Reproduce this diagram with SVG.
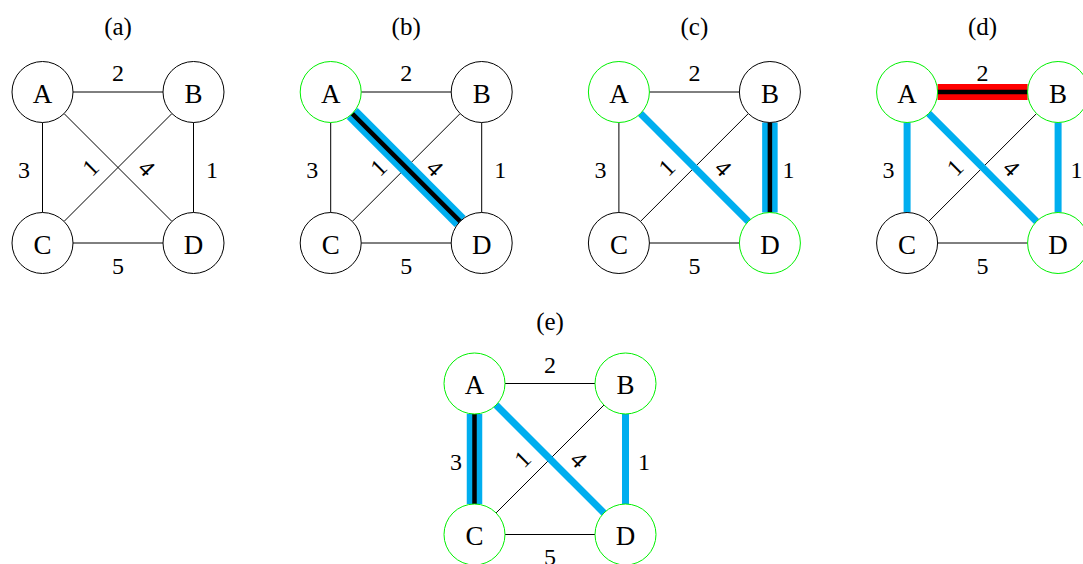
<svg xmlns="http://www.w3.org/2000/svg" width="1083" height="564" viewBox="0 0 1083 564">
<style>
.bg{fill:#fff}
.e{stroke:#000;stroke-width:1;fill:none}
.sel{stroke:#00AEEF;stroke-width:7;fill:none}
.cur{stroke:#00AEEF;stroke-width:15.5;fill:none}
.curR{stroke:#FF0000;stroke-width:16;fill:none}
.core{stroke:#000;stroke-width:4.5;fill:none}
.n circle{fill:#fff;stroke:#000;stroke-width:1}
.g circle{stroke:#00F000}
.n text{font-family:"Liberation Serif","DejaVu Serif",serif;font-size:27px;text-anchor:middle;fill:#000}
.lbl{font-family:"Liberation Serif","DejaVu Serif",serif;font-size:24px;text-anchor:middle;fill:#000}
.ttl{font-family:"Liberation Serif","DejaVu Serif",serif;font-size:25px;text-anchor:middle;fill:#000}
</style>
<defs>
<line id="AB" x1="30.5" y1="0" x2="120.5" y2="0"/>
<line id="CD" x1="30.5" y1="151" x2="120.5" y2="151"/>
<line id="AC" x1="0" y1="30.5" x2="0" y2="120.5"/>
<line id="BD" x1="151" y1="30.5" x2="151" y2="120.5"/>
<line id="AD" x1="21.57" y1="21.57" x2="129.43" y2="129.43"/>
<line id="BC" x1="129.43" y1="21.57" x2="21.57" y2="129.43"/>
<g id="labels">
<text class="lbl" x="75.5" y="-11">2</text>
<text class="lbl" x="75.5" y="181.5">5</text>
<text class="lbl" x="-18.5" y="86">3</text>
<text class="lbl" x="169.5" y="86">1</text>
<text class="lbl" transform="translate(48,75.5) rotate(-45)" x="0" y="8">1</text>
<text class="lbl" transform="translate(104.2,76) rotate(45)" x="0" y="8">4</text>
</g>
</defs>
<rect class="bg" x="0" y="0" width="1083" height="564"/>

<!-- panel (a) -->
<g id="panel-a" transform="translate(42.5,92)">
<text class="ttl" x="75.5" y="-57">(a)</text>
<g id="a-edges">
<use href="#AB" class="e"/><use href="#CD" class="e"/><use href="#AC" class="e"/>
<use href="#BD" class="e"/><use href="#AD" class="e"/><use href="#BC" class="e"/>
</g>
<use href="#labels"/>
<g id="a-A" class="n"><circle cx="0" cy="0" r="30.5"/><text x="0" y="10.5">A</text></g>
<g id="a-B" class="n"><circle cx="151" cy="0" r="30.5"/><text x="151" y="10.5">B</text></g>
<g id="a-C" class="n"><circle cx="0" cy="151" r="30.5"/><text x="0" y="161.5">C</text></g>
<g id="a-D" class="n"><circle cx="151" cy="151" r="30.5"/><text x="151" y="161.5">D</text></g>
</g>

<!-- panel (b) -->
<g id="panel-b" transform="translate(330.7,92)">
<text class="ttl" x="75.5" y="-57">(b)</text>
<g id="b-edges">
<use href="#AB" class="e"/><use href="#CD" class="e"/><use href="#AC" class="e"/>
<use href="#BD" class="e"/><use href="#BC" class="e"/>
<use href="#AD" class="cur"/><use href="#AD" class="core"/>
</g>
<use href="#labels"/>
<g id="b-A" class="n g"><circle cx="0" cy="0" r="30.5"/><text x="0" y="10.5">A</text></g>
<g id="b-B" class="n"><circle cx="151" cy="0" r="30.5"/><text x="151" y="10.5">B</text></g>
<g id="b-C" class="n"><circle cx="0" cy="151" r="30.5"/><text x="0" y="161.5">C</text></g>
<g id="b-D" class="n"><circle cx="151" cy="151" r="30.5"/><text x="151" y="161.5">D</text></g>
</g>

<!-- panel (c) -->
<g id="panel-c" transform="translate(618.9,92)">
<text class="ttl" x="75.5" y="-57">(c)</text>
<g id="c-edges">
<use href="#AB" class="e"/><use href="#CD" class="e"/><use href="#AC" class="e"/>
<use href="#BC" class="e"/>
<use href="#AD" class="sel"/>
<use href="#BD" class="cur"/><use href="#BD" class="core"/>
</g>
<use href="#labels"/>
<g id="c-A" class="n g"><circle cx="0" cy="0" r="30.5"/><text x="0" y="10.5">A</text></g>
<g id="c-B" class="n"><circle cx="151" cy="0" r="30.5"/><text x="151" y="10.5">B</text></g>
<g id="c-C" class="n"><circle cx="0" cy="151" r="30.5"/><text x="0" y="161.5">C</text></g>
<g id="c-D" class="n g"><circle cx="151" cy="151" r="30.5"/><text x="151" y="161.5">D</text></g>
</g>

<!-- panel (d) -->
<g id="panel-d" transform="translate(907.1,92)">
<text class="ttl" x="75.5" y="-57">(d)</text>
<g id="d-edges">
<use href="#CD" class="e"/><use href="#BC" class="e"/>
<use href="#AD" class="sel"/><use href="#AC" class="sel"/><use href="#BD" class="sel"/>
<use href="#AB" class="curR"/><use href="#AB" class="core"/>
</g>
<use href="#labels"/>
<g id="d-A" class="n g"><circle cx="0" cy="0" r="30.5"/><text x="0" y="10.5">A</text></g>
<g id="d-B" class="n g"><circle cx="151" cy="0" r="30.5"/><text x="151" y="10.5">B</text></g>
<g id="d-C" class="n"><circle cx="0" cy="151" r="30.5"/><text x="0" y="161.5">C</text></g>
<g id="d-D" class="n g"><circle cx="151" cy="151" r="30.5"/><text x="151" y="161.5">D</text></g>
</g>

<!-- panel (e) -->
<g id="panel-e" transform="translate(474.5,383.5)">
<text class="ttl" x="75.5" y="-54">(e)</text>
<g id="e-edges">
<use href="#AB" class="e"/><use href="#CD" class="e"/><use href="#BC" class="e"/>
<use href="#AD" class="sel"/><use href="#BD" class="sel"/>
<use href="#AC" class="cur"/><use href="#AC" class="core"/>
</g>
<use href="#labels"/>
<g id="e-A" class="n g"><circle cx="0" cy="0" r="30.5"/><text x="0" y="10.5">A</text></g>
<g id="e-B" class="n g"><circle cx="151" cy="0" r="30.5"/><text x="151" y="10.5">B</text></g>
<g id="e-C" class="n g"><circle cx="0" cy="151" r="30.5"/><text x="0" y="161.5">C</text></g>
<g id="e-D" class="n g"><circle cx="151" cy="151" r="30.5"/><text x="151" y="161.5">D</text></g>
</g>
</svg>
